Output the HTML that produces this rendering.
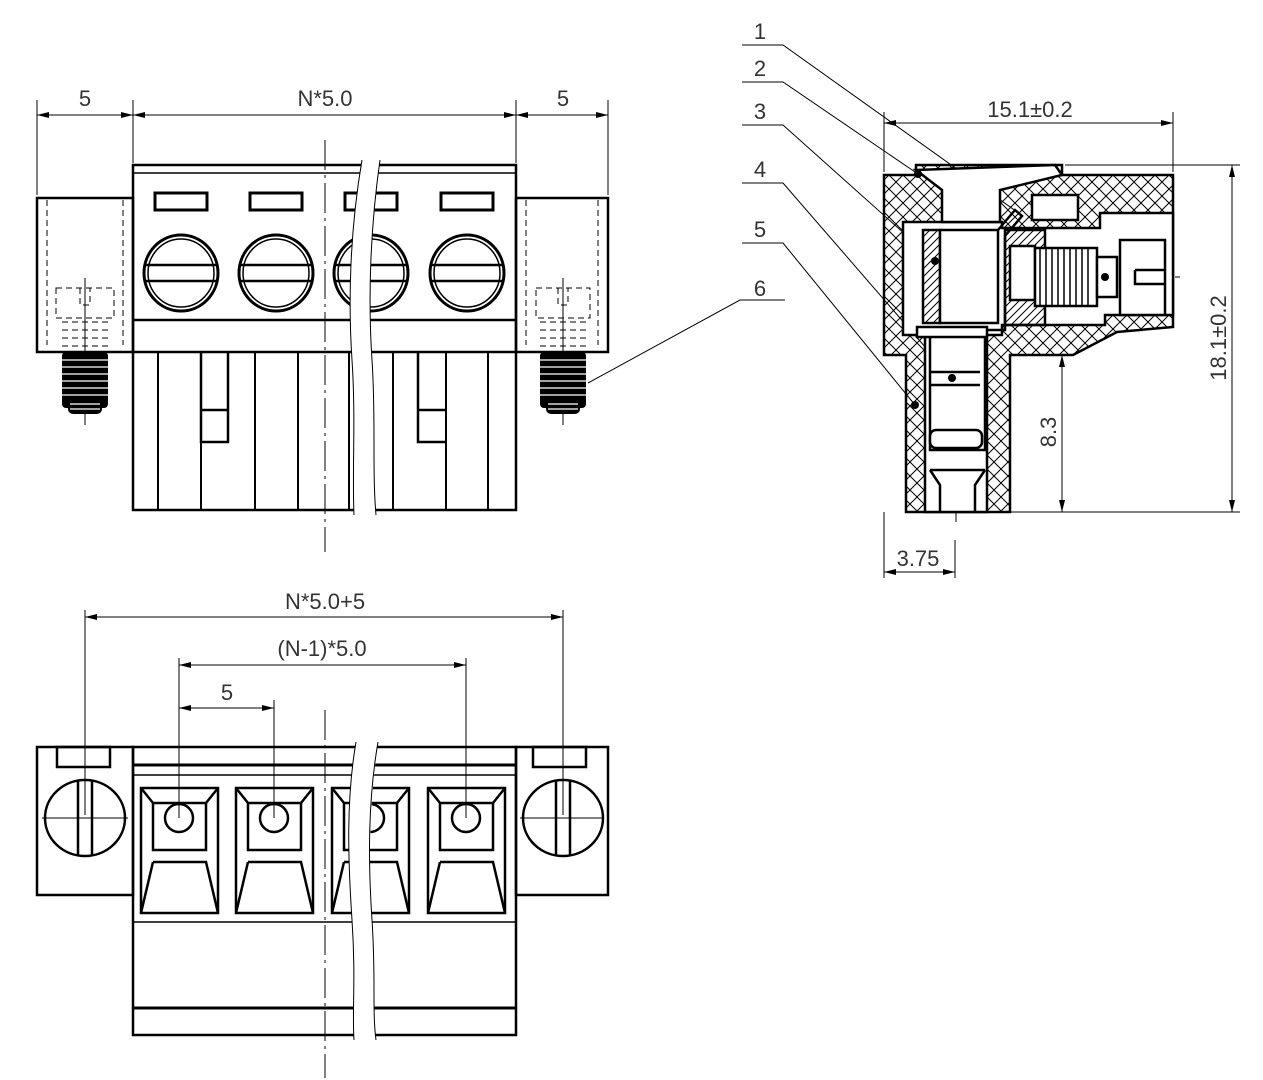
<!DOCTYPE html>
<html><head><meta charset="utf-8"><style>
html,body{margin:0;padding:0;background:#fff;}
svg{display:block;}
text{font-family:"Liberation Sans",sans-serif;fill:#333;font-size:22px;}
</style></head><body>
<svg width="1263" height="1080" viewBox="0 0 1263 1080" xmlns="http://www.w3.org/2000/svg">
<defs>
<pattern id="xh" width="14" height="14" patternUnits="userSpaceOnUse">
<path d="M0,0L14,14M14,0L0,14" stroke="#000" stroke-width="1"/>
</pattern>
<pattern id="dh" width="8" height="8" patternUnits="userSpaceOnUse">
<path d="M-2,2L2,-2M0,8L8,0M6,10L10,6" stroke="#000" stroke-width="1"/>
</pattern>
<marker id="a" viewBox="0 0 12 6" refX="12" refY="3" markerWidth="12" markerHeight="6" orient="auto-start-reverse" markerUnits="userSpaceOnUse">
<path d="M0,0L12,3L0,6Z" fill="#000"/>
</marker>
</defs>

<g stroke="#000" fill="none">
<!-- ===== TOP LEFT VIEW ===== -->
<!-- dims -->
<g stroke-width="1">
<line x1="37" y1="100" x2="37" y2="195"/><line x1="133" y1="100" x2="133" y2="163"/>
<line x1="516" y1="100" x2="516" y2="163"/><line x1="608" y1="100" x2="608" y2="195"/>
<line x1="37" y1="115" x2="133" y2="115" marker-start="url(#a)" marker-end="url(#a)"/>
<line x1="133" y1="115" x2="516" y2="115" marker-start="url(#a)" marker-end="url(#a)"/>
<line x1="516" y1="115" x2="608" y2="115" marker-start="url(#a)" marker-end="url(#a)"/>
<line x1="325" y1="140" x2="325" y2="552" stroke-dasharray="30,5,3,5"/>
</g>
<g stroke-width="2.5">
<rect x="37" y="198" width="96" height="154"/>
<rect x="516" y="198" width="92" height="154"/>
<rect x="133" y="165" width="383" height="345"/>
<line x1="133" y1="173" x2="516" y2="173" stroke-width="1.5"/>
<line x1="133" y1="320" x2="516" y2="320"/>
<line x1="133" y1="352" x2="516" y2="352"/>
<g stroke-width="3">
<rect x="155" y="193" width="52" height="17"/><rect x="250" y="193" width="52" height="17"/>
<rect x="345" y="193" width="52" height="17"/><rect x="441" y="193" width="52" height="17"/>
</g>
<g stroke-width="3">
<ellipse cx="181" cy="273" rx="37" ry="38"/><ellipse cx="276" cy="273" rx="37" ry="38"/>
<ellipse cx="371" cy="273" rx="37" ry="38"/><ellipse cx="467" cy="273" rx="37" ry="38"/>
</g>
<g stroke-width="1.5">
<ellipse cx="181" cy="273" rx="33" ry="34"/><ellipse cx="276" cy="273" rx="33" ry="34"/>
<ellipse cx="371" cy="273" rx="33" ry="34"/><ellipse cx="467" cy="273" rx="33" ry="34"/>
</g>
<path d="M145,265H217M145,281H217M240,265H312M240,281H312M335,265H407M335,281H407M431,265H503M431,281H503"/>
<path d="M158,352V510M201,352V510M255,352V510M298,352V510M349,352V510M393,352V510M446,352V510M488,352V510" stroke-width="2"/>
<path d="M201,352V442H228V352M201,410H228M418,352V442H446M418,410H446" stroke-width="2.5"/>
</g>
<!-- ear dashed -->
<g stroke-width="1" stroke-dasharray="6,4">
<path d="M47,200V345M123,200V345M56,288H114V318H56ZM80,288V305H90V288"/>
<path d="M526,200V345M598,200V345M536,288H590V318H536ZM558,288V305H568V288"/>
<path d="M62,322H108M62,330H108M62,338H108M62,346H108"/>
<path d="M540,322H586M540,330H586M540,338H586M540,346H586"/>
</g>
<line x1="85" y1="278" x2="85" y2="425" stroke-width="1"/>
<line x1="563" y1="278" x2="563" y2="425" stroke-width="1"/>
</g>
<!-- screws -->
<g fill="#000">
<rect x="62" y="352" width="46" height="56" rx="4"/>
<rect x="540" y="352" width="46" height="56" rx="4"/>
<rect x="68" y="400" width="34" height="14" rx="5"/>
<rect x="546" y="400" width="34" height="14" rx="5"/>
</g>
<g stroke="#fff" stroke-width="1.2">
<path d="M62,360H108M62,367H108M62,374H108M62,381H108M62,388H108M62,395H108M70,404H100M70,409H100"/>
<path d="M540,360H586M540,367H586M540,374H586M540,381H586M540,388H586M540,395H586M548,404H578M548,409H578"/>
</g>
<!-- break gap top -->
<path d="M362,160 C350,230 348,300 352,360 C356,420 352,470 354,515 L376,515 C372,470 376,420 372,360 C368,300 370,230 380,160 Z" fill="#fff"/>
<path d="M362,160 C350,230 348,300 352,360 C356,420 352,470 354,515 M380,160 C370,230 368,300 372,360 C376,420 372,470 376,515" stroke="#000" stroke-width="1" fill="none"/>
<!-- leader 6 -->
<path d="M588,383 L740,300 H785" stroke="#000" stroke-width="1" fill="none"/>

<text x="85" y="106" text-anchor="middle">5</text>
<text x="325" y="106" text-anchor="middle">N*5.0</text>
<text x="563" y="106" text-anchor="middle">5</text>
<text x="760" y="296" text-anchor="middle">6</text>

<!-- ===== RIGHT SECTION ===== -->
<g stroke="#000" fill="none" stroke-width="1">
<line x1="884" y1="112" x2="884" y2="172"/>
<line x1="1173" y1="112" x2="1173" y2="172"/>
<line x1="884" y1="123" x2="1173" y2="123" marker-start="url(#a)" marker-end="url(#a)"/>
<line x1="1065" y1="165" x2="1240" y2="165"/>
<line x1="1010" y1="512" x2="1240" y2="512"/>
<line x1="1232" y1="165" x2="1232" y2="512" marker-start="url(#a)" marker-end="url(#a)"/>
<line x1="1062" y1="355" x2="1062" y2="512" marker-start="url(#a)" marker-end="url(#a)"/>
<line x1="884" y1="512" x2="884" y2="578"/>
<line x1="955" y1="540" x2="955" y2="578"/>
<line x1="884" y1="572" x2="955" y2="572" marker-start="url(#a)" marker-end="url(#a)"/>
<line x1="1020" y1="277" x2="1180" y2="277" stroke-dasharray="20,4,3,4"/>
<line x1="956" y1="415" x2="956" y2="522" stroke-dasharray="20,4,3,4"/>
<!-- leaders -->
<path d="M742,45H783L1020,214"/>
<path d="M742,82H783L918,174"/>
<path d="M742,125H783L935,261"/>
<path d="M742,183H783L952,378"/>
<path d="M742,243H783L915,405"/>
</g>
<text x="760" y="39" text-anchor="middle">1</text>
<text x="760" y="76" text-anchor="middle">2</text>
<text x="760" y="119" text-anchor="middle">3</text>
<text x="760" y="177" text-anchor="middle">4</text>
<text x="760" y="237" text-anchor="middle">5</text>
<text x="1030" y="117" text-anchor="middle">15.1±0.2</text>
<text x="918" y="566" text-anchor="middle">3.75</text>
<text transform="translate(1226,338) rotate(-90)" text-anchor="middle">18.1±0.2</text>
<text transform="translate(1056,432) rotate(-90)" text-anchor="middle">8.3</text>

<g stroke="#000" stroke-width="2.5">
<!-- body with crosshatch -->
<path d="M884,175 H916 L916,165 H1062 V175 H1173 V327 L1117,332 L1073,355 H1010 V512 H906 V355 H884 Z" fill="url(#xh)"/>
<!-- cavities -->
<path d="M903,222 H1002 V228 H1100 V213 H1173 V315 H1105 V325 H1002 V335 H987 V512 H925 V335 H903 Z" fill="#fff"/>
<path d="M916,170 L1055,165 L1062,175 L1000,190 L1000,222 H942 V190 Z" fill="#fff"/>
<rect x="1032" y="195" width="46" height="25" fill="#fff"/>
<!-- clamp -->
<rect x="923" y="230" width="17" height="93" fill="url(#dh)"/>
<rect x="940" y="230" width="58" height="93" fill="#fff"/>
<path d="M998,230 L1015,210 L1022,216 L1005,236 V330 H920" fill="none"/>
<rect x="1005" y="230" width="40" height="95" fill="url(#dh)"/>
<rect x="1010" y="246" width="25" height="54" fill="#fff"/>
<!-- screw -->
<rect x="1035" y="248" width="62" height="58" fill="#fff"/>
<path d="M1040,248V306M1046,248V306M1052,248V306M1058,248V306M1064,248V306M1070,248V306M1076,248V306M1082,248V306M1088,248V306" stroke-width="1.5"/>
<rect x="1097" y="257" width="20" height="40" fill="#fff"/>
<rect x="1120" y="240" width="45" height="75" fill="#fff"/>
<path d="M1135,270H1165M1135,270V284H1165" fill="none"/>
<!-- lower pin -->
<rect x="917" y="327" width="70" height="10" fill="#fff"/>
<path d="M930,337 V450 H985 V337" fill="none"/>
<path d="M930,372 H980 M930,385 H980" fill="none"/>
<rect x="930" y="430" width="52" height="18" rx="6" fill="#fff"/>
<path d="M930,470 L940,485 V512 M985,470 L975,485 V512 M930,470 H985" fill="none"/>
</g>
<g fill="#000">
<circle cx="918" cy="174" r="4"/><circle cx="935" cy="261" r="4"/>
<circle cx="1105" cy="277" r="4"/><circle cx="952" cy="378" r="4"/>
<circle cx="915" cy="405" r="4"/>
</g>

<!-- ===== BOTTOM VIEW ===== -->
<g stroke="#000" fill="none" stroke-width="1">
<line x1="85" y1="617" x2="563" y2="617" marker-start="url(#a)" marker-end="url(#a)"/>
<line x1="179" y1="665" x2="466" y2="665" marker-start="url(#a)" marker-end="url(#a)"/>
<line x1="179" y1="708" x2="274" y2="708" marker-start="url(#a)" marker-end="url(#a)"/>
<path d="M85,610V815M563,610V815M179,658V818M466,658V818M274,700V818"/>
<line x1="325" y1="710" x2="325" y2="1078" stroke-dasharray="30,5,3,5"/>
<path d="M42,818H128M520,818H604"/>
</g>
<text x="325" y="609" text-anchor="middle">N*5.0+5</text>
<text x="322" y="656" text-anchor="middle">(N-1)*5.0</text>
<text x="227" y="700" text-anchor="middle">5</text>

<g stroke="#000" fill="none" stroke-width="2.5">
<rect x="37" y="747" width="96" height="148"/>
<rect x="516" y="747" width="92" height="148"/>
<rect x="57" y="747" width="53" height="20"/>
<rect x="533" y="747" width="53" height="20"/>
<ellipse cx="85" cy="818" rx="40" ry="38"/>
<ellipse cx="563" cy="818" rx="40" ry="38"/>
<path d="M78,781V856M92,781V856M556,781V856M570,781V856"/>
<rect x="133" y="747" width="383" height="288"/>
<line x1="133" y1="765" x2="516" y2="765" stroke-width="3"/>
<line x1="133" y1="775" x2="516" y2="775" stroke-width="1.5"/>
<line x1="133" y1="922" x2="516" y2="922" stroke-width="1.5"/>
<line x1="133" y1="1008" x2="516" y2="1008" stroke-width="3"/>
<g id="t">
<rect x="141" y="788" width="77" height="125"/>
<rect x="153" y="803" width="53" height="47"/>
<path d="M141,788L153,803M218,788L206,803M153,862H206L218,913M153,862L141,913"/>
<circle cx="179" cy="818" r="14"/>
</g>
<use href="#t" x="95"/><use href="#t" x="191"/><use href="#t" x="287"/>
</g>
<!-- break gap bottom -->
<path d="M356,742 C346,800 348,860 352,920 C356,980 352,1010 354,1040 L376,1040 C372,1010 376,980 372,920 C368,860 370,800 378,742 Z" fill="#fff"/>
<path d="M356,742 C346,800 348,860 352,920 C356,980 352,1010 354,1040 M378,742 C368,800 368,860 372,920 C376,980 372,1010 376,1040" stroke="#000" stroke-width="1" fill="none"/>
</svg>
</body></html>
